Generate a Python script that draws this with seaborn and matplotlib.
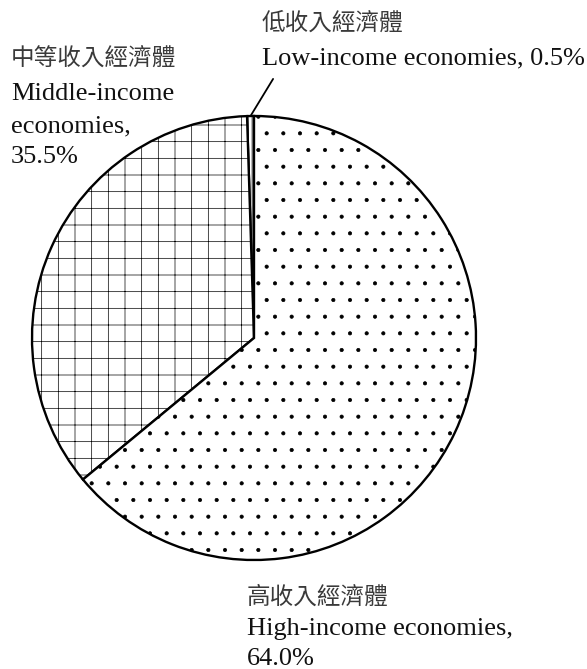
import matplotlib
matplotlib.use("Agg")
import matplotlib.pyplot as plt
import seaborn as sns
import numpy as np

categories_zh = ["低收入經濟體", "中等收入經濟體", "高收入經濟體"]
categories_en = ["Low-income economies", "Middle-income economies", "High-income economies"]
shares = [0.5, 35.5, 64.0]
hatches = ["||||", "+", "."]

sns.set_theme(style="white")
plt.rcParams["hatch.linewidth"] = 0.5
plt.rcParams["hatch.color"] = "#222222"

W, H = 587, 669
fig = plt.figure(figsize=(W / 100, H / 100), dpi=100)
cx, cy, r = 254, 338, 222
ax = fig.add_axes([(cx - r) / W, (H - cy - r) / H, 2 * r / W, 2 * r / H])

wedges, _ = ax.pie(shares, startangle=90, counterclock=True,
                   colors=["white"] * 3,
                   wedgeprops=dict(edgecolor="black", linewidth=1.7))
for w, h in zip(wedges, hatches):
    w.set_hatch(h)
ax.set_xlim(-1, 1)
ax.set_ylim(-1, 1)
ax.set_aspect("equal")
ax.axis("off")

# leader line for the low-income slice
w0 = wedges[0]
mid = np.deg2rad((w0.theta1 + w0.theta2) / 2)
ax.annotate("", xy=(np.cos(mid), np.sin(mid)), xytext=(0.086, 1.167),
            arrowprops=dict(arrowstyle="-", color="black", lw=1.3,
                            shrinkA=0, shrinkB=0), annotation_clip=False)

zh = ["Noto Sans CJK TC", "DejaVu Sans"]
en = ["Liberation Serif", "DejaVu Serif"]
zs, es = 17, 19
txtc = "#111111"

def px(x, y):
    return x / W, 1 - y / H

def zh_text(x, y, s):
    fig.text(*px(x, y), s, family=zh, fontsize=zs, color="#3a3a3a",
             va="center", ha="left")

def en_text(x, y, s):
    fig.text(*px(x, y), s, family=en, fontsize=es, color=txtc,
             va="baseline", ha="left")

# low-income
zh_text(262, 23, categories_zh[0])
en_text(262, 64, f"{categories_en[0]}, {shares[0]:.1f}%")
# middle-income
zh_text(11, 59, categories_zh[1])
en_text(11, 100, "Middle-income")
en_text(11, 132, "economies,")
en_text(11, 163, f"{shares[1]:.1f}%")
# high-income
zh_text(247, 597, categories_zh[2])
en_text(247, 635, "High-income economies,")
en_text(247, 665, f"{shares[2]:.1f}%")

fig.savefig("out.png", dpi=100, facecolor="white")
